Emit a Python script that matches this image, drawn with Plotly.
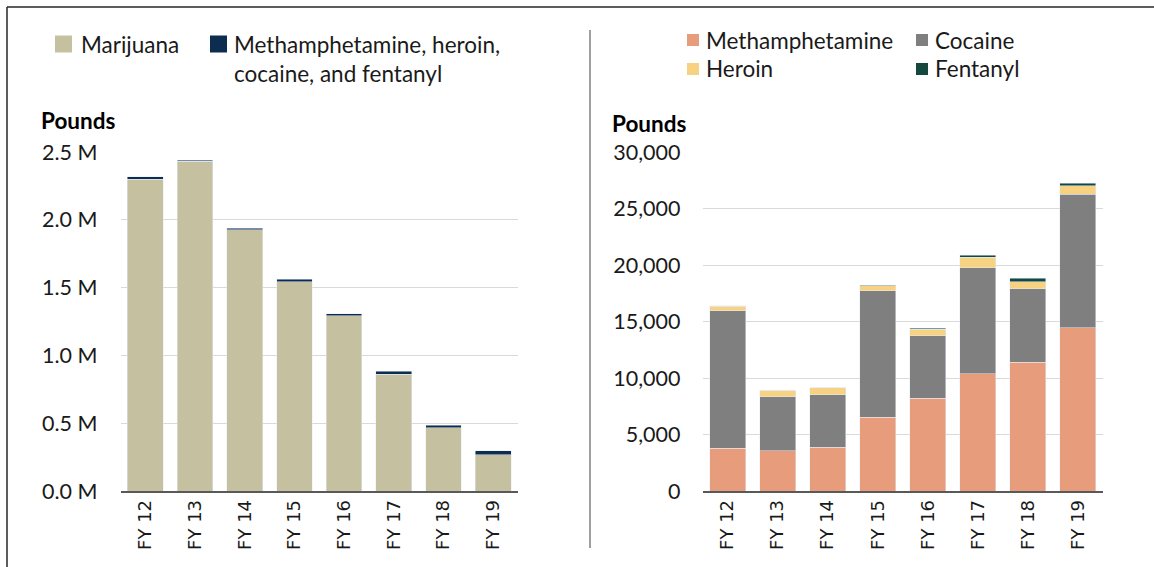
import plotly.graph_objects as go

W, H = 1154, 567

years = ["FY 12", "FY 13", "FY 14", "FY 15", "FY 16", "FY 17", "FY 18", "FY 19"]

# Left chart (pounds)
marijuana = [2300000, 2432000, 1928000, 1543000, 1291000, 862000, 465000, 268000]
hard_drugs = [16400, 8900, 9100, 18200, 14400, 20900, 18900, 27200]

# Right chart (pounds)
meth = [3800, 3570, 3890, 6520, 8200, 10380, 11390, 14450]
cocaine = [12130, 4750, 4630, 11210, 5550, 9380, 6510, 11810]
heroin = [440, 590, 600, 440, 550, 920, 600, 760]
fentanyl = [15, 15, 20, 60, 120, 200, 350, 210]

left_tickvals = [0, 500000, 1000000, 1500000, 2000000, 2500000]
left_ticktext = ["0.0 M", "0.5 M", "1.0 M", "1.5 M", "2.0 M", "2.5 M"]
right_tickvals = [0, 5000, 10000, 15000, 20000, 25000, 30000]

C_MJ = "#c5c1a0"
C_HARD = "#0c2c50"
C_METH = "#e79c7b"
C_COC = "#7f7f7f"
C_HER = "#f7d283"
C_FEN = "#15483f"

FONT = "Lato"
TXT = "#1a1a1a"
LEG_SIZE = 22.5


def px(x):
    return x / W


def py(y):
    return 1 - y / H


fig = go.Figure()
fig.add_trace(go.Bar(x=years, y=marijuana, marker_color=C_MJ, xaxis="x", yaxis="y",
                     name="Marijuana", showlegend=False))
fig.add_trace(go.Bar(x=years, y=hard_drugs, marker_color=C_HARD, xaxis="x", yaxis="y",
                     name="Methamphetamine, heroin, cocaine, and fentanyl", showlegend=False))
for name, vals, col in [("Methamphetamine", meth, C_METH), ("Cocaine", cocaine, C_COC),
                        ("Heroin", heroin, C_HER), ("Fentanyl", fentanyl, C_FEN)]:
    fig.add_trace(go.Bar(x=years, y=vals, marker_color=col, xaxis="x2", yaxis="y2",
                         name=name, showlegend=False))

ydom = [py(491), py(152)]
common_x = dict(type="category", showgrid=False, showline=True, linecolor="#595959",
                linewidth=1.5, tickangle=-90, ticks="", automargin=False,
                tickfont=dict(family="DejaVu Sans", size=18, color=TXT))
common_y = dict(showgrid=True, gridcolor="#d9d9d9", gridwidth=1, zeroline=False,
                showline=False, ticks="", automargin=False,
                tickfont=dict(family=FONT, size=21.5, color=TXT))

fig.update_layout(
    width=W, height=H, autosize=False,
    margin=dict(l=0, r=0, t=0, b=0, pad=0),
    paper_bgcolor="white", plot_bgcolor="white",
    barmode="stack", bargap=0.28,
    showlegend=False,
    xaxis=dict(domain=[px(120.5), px(518)], anchor="y", **common_x),
    yaxis=dict(domain=ydom, anchor="x", range=[0, 2500000], tickvals=left_tickvals,
               ticktext=left_ticktext, ticklabelstandoff=22, **common_y),
    xaxis2=dict(domain=[px(702.5), px(1103)], anchor="y2", **common_x),
    yaxis2=dict(domain=ydom, anchor="x2", range=[0, 30000], tickvals=right_tickvals,
                tickformat=",", ticklabelstandoff=21, **common_y),
)

shapes = []
annotations = []
# outer frame (left and top edges) and divider
shapes.append(dict(type="line", xref="paper", yref="paper", x0=px(7), x1=px(7), y0=py(7), y1=0,
                   line=dict(color="#262626", width=1.5)))
shapes.append(dict(type="line", xref="paper", yref="paper", x0=px(7), x1=1, y0=py(7), y1=py(7),
                   line=dict(color="#262626", width=1.5)))
shapes.append(dict(type="line", xref="paper", yref="paper", x0=px(590), x1=px(590), y0=py(30), y1=py(548),
                   line=dict(color="#404040", width=1)))


def swatch(x, y, size, color):
    shapes.append(dict(type="rect", xref="paper", yref="paper", x0=px(x), x1=px(x + size),
                       y0=py(y - size / 2), y1=py(y + size / 2), fillcolor=color,
                       line=dict(width=0)))


swatch(55, 44, 17, C_MJ)
swatch(210, 44, 17, C_HARD)
annotations.append(dict(text="Marijuana", x=px(79), y=py(44), xref="paper", yref="paper",
                        xanchor="left", yanchor="middle", showarrow=False,
                        font=dict(family=FONT, size=LEG_SIZE, color=TXT)))
annotations.append(dict(text="Methamphetamine, heroin,<br>cocaine, and fentanyl", x=px(232), y=py(29),
                        xref="paper", yref="paper", xanchor="left", yanchor="top", align="left",
                        showarrow=False, font=dict(family=FONT, size=LEG_SIZE, color=TXT)))

for (x, y, col, t) in [(687, 40, C_METH, "Methamphetamine"), (916, 40, C_COC, "Cocaine"),
                       (687, 69, C_HER, "Heroin"), (916, 69, C_FEN, "Fentanyl")]:
    swatch(x, y, 12, col)
    annotations.append(dict(text=t, x=px(x + 17), y=py(y), xref="paper", yref="paper",
                            xanchor="left", yanchor="middle", showarrow=False,
                            font=dict(family=FONT, size=LEG_SIZE, color=TXT)))

annotations.append(dict(text="<b>Pounds</b>", x=px(39), y=py(120), xref="paper", yref="paper",
                        xanchor="left", yanchor="middle", showarrow=False,
                        font=dict(family=FONT, size=22.5, color="#000000")))
annotations.append(dict(text="<b>Pounds</b>", x=px(610), y=py(123), xref="paper", yref="paper",
                        xanchor="left", yanchor="middle", showarrow=False,
                        font=dict(family=FONT, size=22.5, color="#000000")))

fig.update_layout(shapes=shapes, annotations=annotations)
fig.write_html("out.html",
               config={"displayModeBar": False},
               post_script="document.body.style.margin='0';document.body.style.overflow='hidden';")
